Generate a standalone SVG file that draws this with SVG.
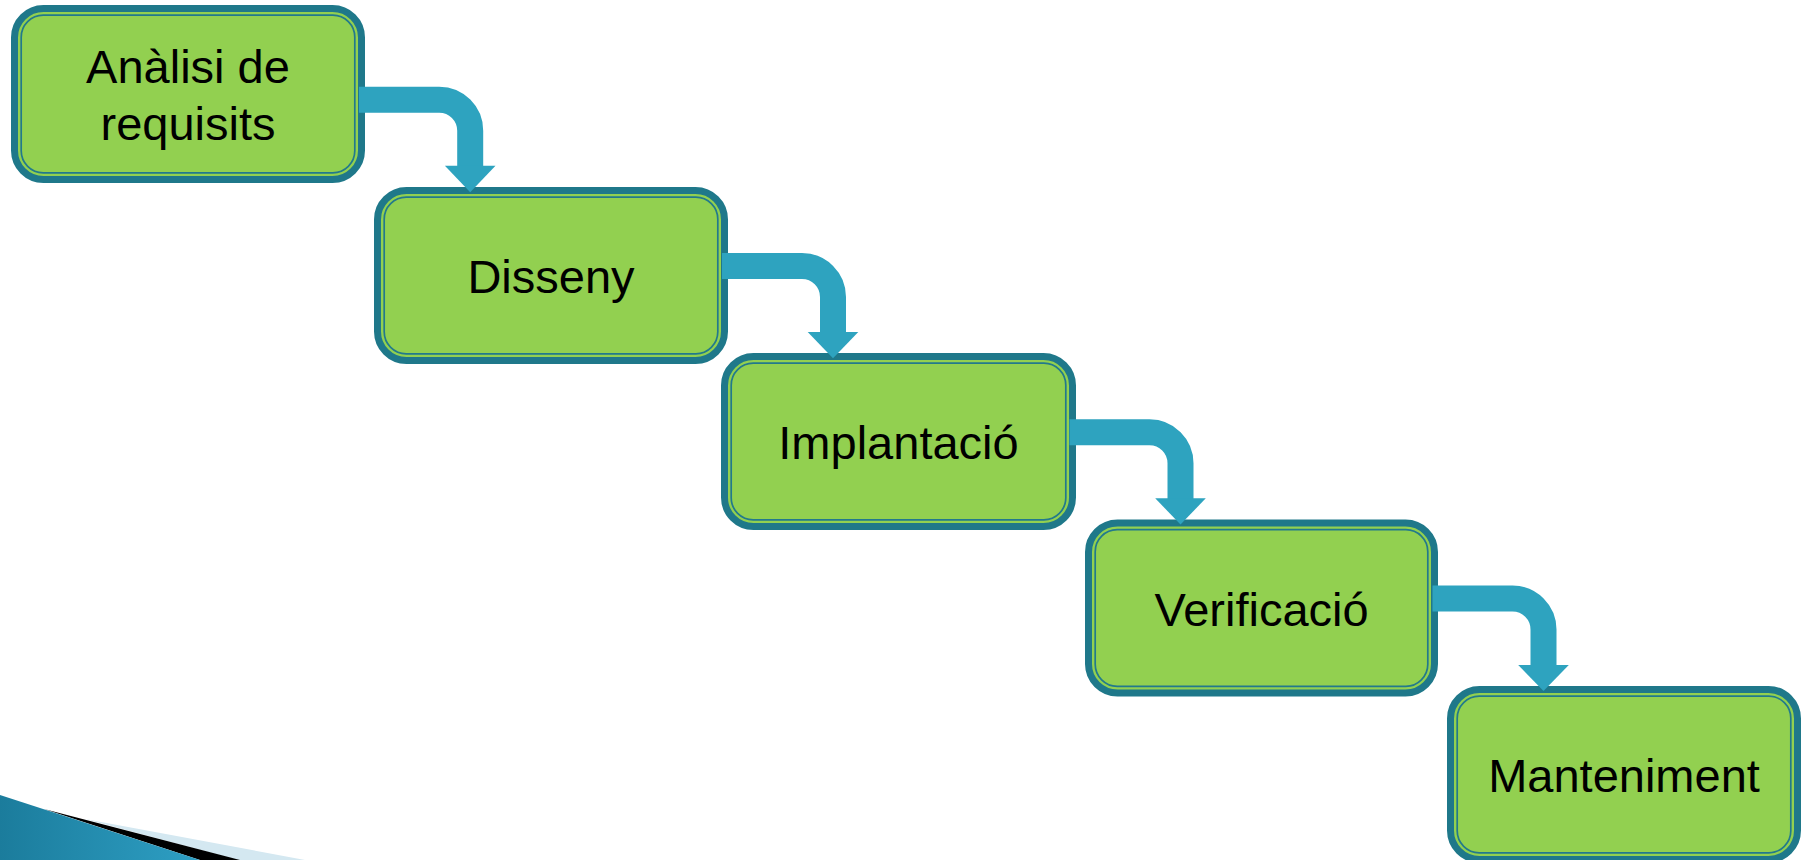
<svg xmlns="http://www.w3.org/2000/svg" width="1807" height="860" viewBox="0 0 1807 860">
  <defs>
    <style>
      .outer { fill: #92D050; stroke: #1F788A; stroke-width: 7; }
      .inner { fill: none; stroke: #22798C; stroke-width: 1.7; }
      .lbl { font-family: "Liberation Sans", Arial, sans-serif; font-size: 47px; fill: #000; text-anchor: middle; }
      .band { fill: none; stroke: #2EA3BF; stroke-width: 26; stroke-linecap: butt; }
      .head { fill: #2EA3BF; }
    </style>
    <linearGradient id="swg" x1="0" y1="0" x2="1" y2="0">
      <stop offset="0" stop-color="#1B7C9C"/>
      <stop offset="1" stop-color="#2E9FC4"/>
    </linearGradient>
    <pattern id="stripes" width="12" height="12" patternUnits="userSpaceOnUse" patternTransform="rotate(30)">
      <rect width="12" height="12" fill="url(#swg)"/>
      <line x1="0" y1="0" x2="0" y2="12" stroke="#ffffff" stroke-opacity="0.08" stroke-width="2"/>
    </pattern>
  </defs>

  <g id="swoosh">
    <path d="M 85 819 L 305 860 L 238 860 Z" fill="#D4E8F1"/>
    <path d="M 44 809 L 240 860 L 200 860 Z" fill="#000000"/>
    <path d="M 0 795 L 200 860 L 0 860 Z" fill="url(#swg)"/>
  </g>

  <g id="node-analisi">
    <rect class="outer" x="14.5" y="8.5" width="347" height="171" rx="29"/>
    <rect class="inner" x="21.2" y="15.2" width="333.6" height="157.6" rx="22"/>
    <text class="lbl" x="188" y="83">Anàlisi de</text>
    <text class="lbl" x="188" y="140">requisits</text>
  </g>

  <g id="node-disseny">
    <rect class="outer" x="377.5" y="190.5" width="347" height="170" rx="29"/>
    <rect class="inner" x="384.2" y="197.2" width="333.6" height="156.6" rx="22"/>
    <text class="lbl" x="551" y="293">Disseny</text>
  </g>

  <g id="node-implantacio">
    <rect class="outer" x="724.5" y="356.5" width="348" height="170" rx="29"/>
    <rect class="inner" x="731.2" y="363.2" width="334.6" height="156.6" rx="22"/>
    <text class="lbl" x="898.5" y="459">Implantació</text>
  </g>

  <g id="node-verificacio">
    <rect class="outer" x="1088.5" y="523" width="346" height="170" rx="29"/>
    <rect class="inner" x="1095.2" y="529.7" width="332.6" height="156.6" rx="22"/>
    <text class="lbl" x="1261.5" y="625.5">Verificació</text>
  </g>

  <g id="node-manteniment">
    <rect class="outer" x="1450.5" y="689.5" width="347" height="170" rx="29"/>
    <rect class="inner" x="1457.2" y="696.2" width="333.6" height="156.6" rx="22"/>
    <text class="lbl" x="1624" y="791.5">Manteniment</text>
  </g>

  <g id="connectors">
    <path class="band" d="M 359 99.7 H 439.2 A 31 31 0 0 1 470.2 130.7 V 167"/>
    <polygon class="head" points="444.9,165.7 495.5,165.7 470.2,192.3"/>

    <path class="band" d="M 722 266 H 802 A 31 31 0 0 1 833 297 V 333.3"/>
    <polygon class="head" points="807.7,332 858.3,332 833,358.2"/>

    <path class="band" d="M 1069.5 432.3 H 1149.5 A 31 31 0 0 1 1180.5 463.3 V 499.3"/>
    <polygon class="head" points="1155.2,498.3 1205.8,498.3 1180.5,524.5"/>

    <path class="band" d="M 1432.5 598.5 H 1512.5 A 31 31 0 0 1 1543.5 629.5 V 666"/>
    <polygon class="head" points="1518.2,665 1568.8,665 1543.5,691"/>
  </g>
</svg>
